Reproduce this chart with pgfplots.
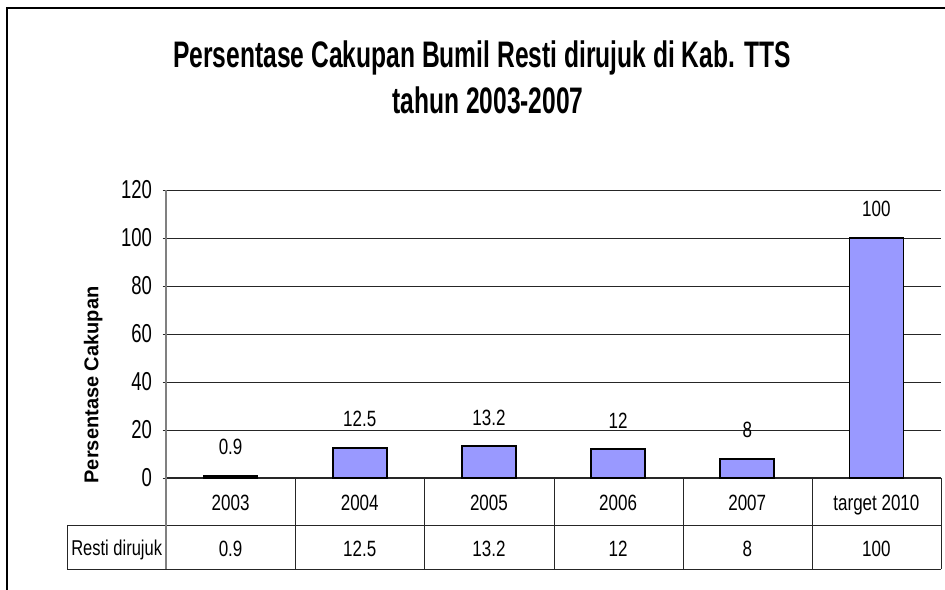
\documentclass[border=0pt]{standalone}
\usepackage{pgfplots}
\pgfplotsset{compat=1.18}
\usepackage{fontspec}
\setmainfont{Liberation Sans}
\definecolor{barblue}{HTML}{9999FF}
\newcommand{\vs}[2]{\scalebox{1}[#1]{#2}}
\begin{document}
\begin{tikzpicture}[x=1pt,y=1pt]
\path[use as bounding box] (0,0) rectangle (945,589);
\draw[line width=2.5pt] (7,-2) -- (7,581) -- (948,581);
\node[font=\bfseries\fontsize{24.6}{28}\selectfont, anchor=base, inner sep=0pt] at (482,521) {\vs{1.5}{Persentase Cakupan Bumil Resti dirujuk di Kab. TTS}};
\node[font=\bfseries\fontsize{24.6}{28}\selectfont, anchor=base, inner sep=0pt] at (488,475) {\vs{1.5}{tahun 2003-2007}};
\begin{axis}[
  at={(166pt,111pt)}, anchor=south west,
  scale only axis, width=775pt, height=288pt,
  xmin=-0.5, xmax=5.5, ymin=0, ymax=120,
  ytick={0,20,...,120},
  xtick={0,...,5},
  xticklabels={\vs{1.3}{2003},\vs{1.3}{2004},\vs{1.3}{2005},\vs{1.3}{2006},\vs{1.3}{2007},\vs{1.3}{target 2010}},
  xticklabel style={anchor=base, yshift=-29pt, inner sep=0pt, font=\fontsize{17}{20}\selectfont},
  x tick style={draw=none},
  major tick length=7pt, tick align=outside,
  axis lines=left, axis line style={-},
  y axis line style={gray, line width=1.6pt},
  x axis line style={black!85, line width=1pt},
  ymajorgrids, grid style={black!85, line width=0.9pt},
  ytick style={black!85, line width=0.9pt},
  yticklabel style={font=\fontsize{18.5}{20}\selectfont, xshift=-7pt},
  yticklabel={\vs{1.4}{\pgfmathprintnumber[assume math mode=true]{\tick}}},
  ylabel={Persentase Cakupan},
  ylabel style={font=\bfseries\fontsize{20}{22}\selectfont, at={(axis description cs:-0.094,0.323)}, anchor=center},
  clip=false,
]
\addplot[ybar, bar width=54pt, fill=barblue, draw=black, line width=1.7pt,
  nodes near coords={\vs{1.3}{\pgfmathprintnumber[assume math mode=true]{\pgfplotspointmeta}}},
  every node near coord/.append style={font=\fontsize{17}{20}\selectfont, black, inner sep=0pt, anchor=base, yshift=21pt}]
  coordinates {(0,0.9) (1,12.5) (2,13.2) (3,12) (4,8) (5,100)};
\addplot[draw=none, mark=none, point meta=explicit symbolic,
  nodes near coords={\vs{1.3}{\pgfplotspointmeta}},
  every node near coord/.append style={font=\fontsize{17}{20}\selectfont, black, inner sep=0pt, anchor=base, yshift=-78pt}]
  coordinates {(0,0)[0.9] (1,0)[12.5] (2,0)[13.2] (3,0)[12] (4,0)[8] (5,0)[100]};
\end{axis}
\draw[black!85, line width=0.9pt] (67,64) -- (941,64) (67,20) -- (941,20) (67,64) -- (67,20);
\foreach \x in {295,424,554,683,812,941} \draw[black!85, line width=0.9pt] (\x,111) -- (\x,20);
\draw[gray, line width=1.6pt] (166,111) -- (166,20);
\node[font=\fontsize{16.5}{20}\selectfont, anchor=base, inner sep=0pt] at (116.7,33) {\vs{1.3}{Resti dirujuk}};
\end{tikzpicture}
\end{document}
